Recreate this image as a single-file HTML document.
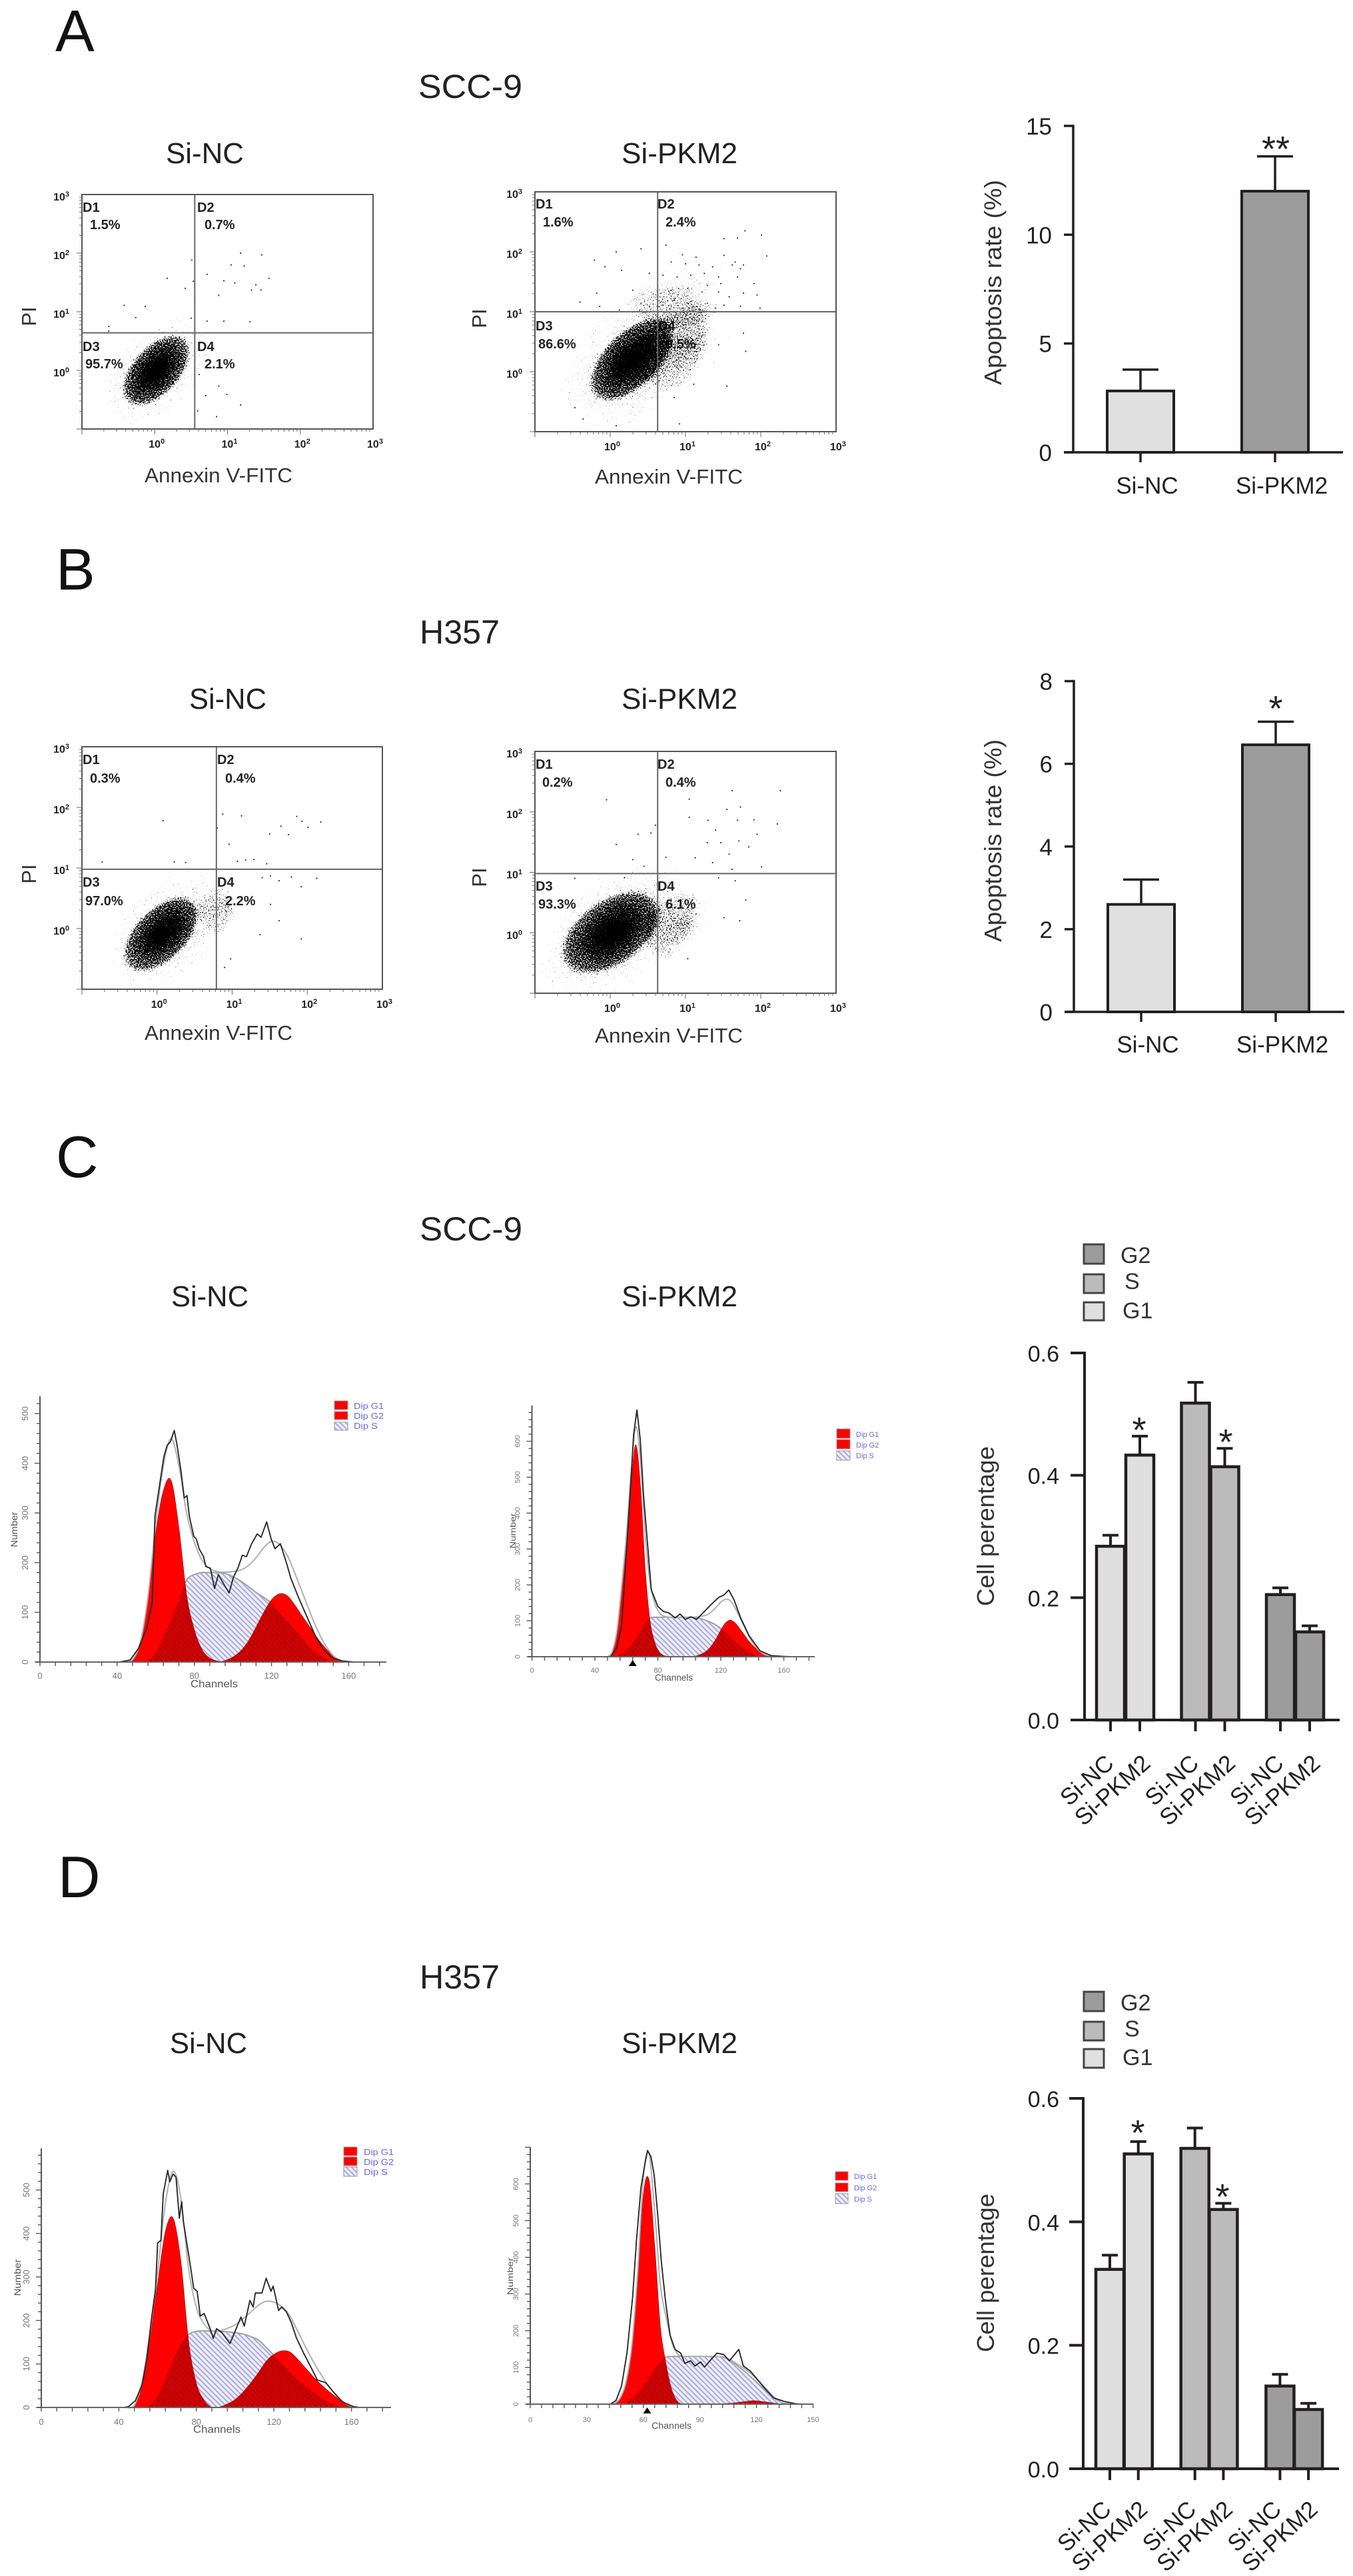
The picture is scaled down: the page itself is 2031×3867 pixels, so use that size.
<!DOCTYPE html>
<html lang="en">
<head>
<meta charset="utf-8">
<title>Apoptosis and cell cycle figure</title>
<style>
html,body{margin:0;padding:0;background:#fff;}
svg{display:block;}
text{font-family:"Liberation Sans",sans-serif;fill:#222;}
.letter{font-size:88px;fill:#111;}
.title{font-size:50px;}
.sub{font-size:44px;}
.ann{font-size:31px;fill:#333;}
.q{font-size:20px;font-weight:700;fill:#222;}
.axt{font-size:36px;fill:#333;}
.star{font-size:54px;fill:#222;text-anchor:middle;}
.leg{font-size:34px;fill:#333;}
.dip{fill:#6a6ae0;}
.num{fill:#777;}
.chan{fill:#555;}
</style>
</head>
<body>
<svg id="figure" width="2031" height="3867" viewBox="0 0 2031 3867">
  <defs>
    <filter id="speckle" x="-5%" y="-5%" width="110%" height="110%" color-interpolation-filters="sRGB">
      <feTurbulence type="fractalNoise" baseFrequency="0.55" numOctaves="2" seed="7" result="noise"/>
      <feColorMatrix in="noise" type="matrix" values="0 0 0 0 0  0 0 0 0 0  0 0 0 0 0  1 0 0 0 0" result="noiseAlpha"/>
      <feComposite in="SourceAlpha" in2="noiseAlpha" operator="arithmetic" k1="0" k2="1" k3="1" k4="-1" result="sum"/>
      <feComponentTransfer in="sum"><feFuncA type="linear" slope="10" intercept="0"/></feComponentTransfer>
    </filter>
    <radialGradient id="cloudGrad">
      <stop offset="0" stop-color="#000" stop-opacity="0.95"/>
      <stop offset="0.3" stop-color="#000" stop-opacity="0.7"/>
      <stop offset="0.6" stop-color="#000" stop-opacity="0.52"/>
      <stop offset="0.85" stop-color="#000" stop-opacity="0.42"/>
      <stop offset="1" stop-color="#000" stop-opacity="0"/>
    </radialGradient>
    <pattern id="hatchBlue" width="5.6" height="5.6" patternUnits="userSpaceOnUse" patternTransform="rotate(45)">
      <rect width="5.6" height="5.6" fill="#eeeefa"/><rect width="5.6" height="2" fill="#a8a8dc"/>
    </pattern>
    <pattern id="hatchRed" width="5.6" height="5.6" patternUnits="userSpaceOnUse" patternTransform="rotate(45)">
      <rect width="5.6" height="5.6" fill="#d80000"/><rect width="5.6" height="2" fill="#a80000"/>
    </pattern>
  </defs>

  <!-- panel letters and headings -->
  <text class="letter" x="83" y="77">A</text>
  <text class="letter" x="84" y="885">B</text>
  <text class="letter" x="84" y="1767">C</text>
  <text class="letter" x="87" y="2848">D</text>
  <text class="title" x="628" y="147" textLength="156" lengthAdjust="spacingAndGlyphs">SCC-9</text>
  <text class="title" x="630" y="966" textLength="120" lengthAdjust="spacingAndGlyphs">H357</text>
  <text class="title" x="630" y="1862" textLength="154" lengthAdjust="spacingAndGlyphs">SCC-9</text>
  <text class="title" x="630" y="2985" textLength="120" lengthAdjust="spacingAndGlyphs">H357</text>
  <text class="sub" x="249" y="245" textLength="117" lengthAdjust="spacingAndGlyphs">Si-NC</text>
  <text class="sub" x="933" y="245" textLength="174" lengthAdjust="spacingAndGlyphs">Si-PKM2</text>
  <text class="sub" x="284" y="1064" textLength="116" lengthAdjust="spacingAndGlyphs">Si-NC</text>
  <text class="sub" x="933" y="1064" textLength="174" lengthAdjust="spacingAndGlyphs">Si-PKM2</text>
  <text class="sub" x="257" y="1961" textLength="116" lengthAdjust="spacingAndGlyphs">Si-NC</text>
  <text class="sub" x="933" y="1961" textLength="174" lengthAdjust="spacingAndGlyphs">Si-PKM2</text>
  <text class="sub" x="255" y="3082" textLength="116" lengthAdjust="spacingAndGlyphs">Si-NC</text>
  <text class="sub" x="933" y="3082" textLength="174" lengthAdjust="spacingAndGlyphs">Si-PKM2</text>

  <!-- flow plot axis titles -->
  <text class="ann" x="217" y="724" textLength="222" lengthAdjust="spacingAndGlyphs">Annexin V-FITC</text>
  <text class="ann" x="893" y="726" textLength="222" lengthAdjust="spacingAndGlyphs">Annexin V-FITC</text>
  <text class="ann" x="217" y="1561" textLength="222" lengthAdjust="spacingAndGlyphs">Annexin V-FITC</text>
  <text class="ann" x="893" y="1565" textLength="222" lengthAdjust="spacingAndGlyphs">Annexin V-FITC</text>
  <text class="ann" text-anchor="middle" transform="rotate(-90 54 475)" x="54" y="475">PI</text>
  <text class="ann" text-anchor="middle" transform="rotate(-90 730 478)" x="730" y="478">PI</text>
  <text class="ann" text-anchor="middle" transform="rotate(-90 54 1312)" x="54" y="1312">PI</text>
  <text class="ann" text-anchor="middle" transform="rotate(-90 730 1317)" x="730" y="1317">PI</text>

  <!-- quadrant labels -->
  <g>
    <text class="q" x="124" y="318">D1</text><text class="q" x="135" y="344">1.5%</text>
    <text class="q" x="296" y="318">D2</text><text class="q" x="307" y="344">0.7%</text>
    <text class="q" x="124" y="527">D3</text><text class="q" x="128" y="553">95.7%</text>
    <text class="q" x="296" y="527">D4</text><text class="q" x="307" y="553">2.1%</text>
  </g>
  <g>
    <text class="q" x="804" y="313">D1</text><text class="q" x="815" y="340">1.6%</text>
    <text class="q" x="987" y="313">D2</text><text class="q" x="999" y="340">2.4%</text>
    <text class="q" x="804" y="496">D3</text><text class="q" x="808" y="523">86.6%</text>
    <text class="q" x="988" y="496">D4</text><text class="q" x="999" y="523">9.5%</text>
  </g>
  <g>
    <text class="q" x="124" y="1147">D1</text><text class="q" x="135" y="1175">0.3%</text>
    <text class="q" x="326" y="1147">D2</text><text class="q" x="338" y="1175">0.4%</text>
    <text class="q" x="124" y="1331">D3</text><text class="q" x="128" y="1359">97.0%</text>
    <text class="q" x="326" y="1331">D4</text><text class="q" x="338" y="1359">2.2%</text>
  </g>
  <g>
    <text class="q" x="804" y="1154">D1</text><text class="q" x="814" y="1181">0.2%</text>
    <text class="q" x="987" y="1154">D2</text><text class="q" x="999" y="1181">0.4%</text>
    <text class="q" x="804" y="1337">D3</text><text class="q" x="808" y="1364">93.3%</text>
    <text class="q" x="987" y="1337">D4</text><text class="q" x="999" y="1364">6.1%</text>
  </g>

  <!-- bar chart titles and significance marks -->
  <text class="axt" transform="rotate(-90 1503 424)" x="1503" y="424" text-anchor="middle" textLength="308" lengthAdjust="spacingAndGlyphs">Apoptosis rate (%)</text>
  <text class="axt" transform="rotate(-90 1503 1262)" x="1503" y="1262" text-anchor="middle" textLength="304" lengthAdjust="spacingAndGlyphs">Apoptosis rate (%)</text>
  <text class="axt" transform="rotate(-90 1492 2291)" x="1492" y="2291" text-anchor="middle" textLength="240" lengthAdjust="spacingAndGlyphs">Cell perentage</text>
  <text class="axt" transform="rotate(-90 1492 3412)" x="1492" y="3412" text-anchor="middle" textLength="238" lengthAdjust="spacingAndGlyphs">Cell perentage</text>
  <text class="star" x="1915" y="242">**</text>
  <text class="star" x="1915" y="1082">*</text>
  <text class="star" x="1710" y="2165">*</text>
  <text class="star" x="1840" y="2183">*</text>
  <text class="star" x="1708" y="3220">*</text>
  <text class="star" x="1835" y="3316">*</text>

  <!-- bar chart legends -->
  <g stroke-width="0">
    <rect x="1627" y="1868" width="30" height="29" fill="#9b9b9b" stroke="#444" stroke-width="3"/><text class="leg" x="1682" y="1896">G2</text>
    <rect x="1627" y="1913" width="30" height="28" fill="#bbbbbb" stroke="#444" stroke-width="3"/><text class="leg" x="1688" y="1935">S</text>
    <rect x="1627" y="1955" width="30" height="27" fill="#e0e0e0" stroke="#444" stroke-width="3"/><text class="leg" x="1685" y="1979">G1</text>
  </g>
  <g stroke-width="0">
    <rect x="1627" y="2990" width="30" height="29" fill="#9b9b9b" stroke="#444" stroke-width="3"/><text class="leg" x="1682" y="3018">G2</text>
    <rect x="1627" y="3035" width="30" height="28" fill="#bbbbbb" stroke="#444" stroke-width="3"/><text class="leg" x="1688" y="3057">S</text>
    <rect x="1627" y="3076" width="30" height="28" fill="#e0e0e0" stroke="#444" stroke-width="3"/><text class="leg" x="1685" y="3100">G1</text>
  </g>

  <!-- histogram legends and titles -->
  <g>
    <rect x="502" y="2103" width="20" height="13" fill="#f00" stroke="#999"/><text class="dip" font-size="13" x="531" y="2115" textLength="45" lengthAdjust="spacingAndGlyphs">Dip G1</text>
    <rect x="502" y="2119" width="20" height="12" fill="#f00" stroke="#999"/><text class="dip" font-size="13" x="531" y="2130" textLength="45" lengthAdjust="spacingAndGlyphs">Dip G2</text>
    <rect x="502" y="2135" width="20" height="12" fill="url(#hatchBlue)" stroke="#999"/><text class="dip" font-size="13" x="531" y="2145" textLength="36" lengthAdjust="spacingAndGlyphs">Dip S</text>
  </g>
  <g>
    <rect x="1256" y="2145" width="20" height="14" fill="#f00" stroke="#999"/><text class="dip" font-size="11" x="1285" y="2157">Dip G1</text>
    <rect x="1256" y="2161" width="20" height="14" fill="#f00" stroke="#999"/><text class="dip" font-size="11" x="1285" y="2173">Dip G2</text>
    <rect x="1256" y="2178" width="20" height="14" fill="url(#hatchBlue)" stroke="#999"/><text class="dip" font-size="11" x="1285" y="2189">Dip S</text>
  </g>
  <g>
    <rect x="516" y="3223" width="20" height="13" fill="#f00" stroke="#999"/><text class="dip" font-size="13" x="546" y="3235" textLength="45" lengthAdjust="spacingAndGlyphs">Dip G1</text>
    <rect x="516" y="3238" width="20" height="13" fill="#f00" stroke="#999"/><text class="dip" font-size="13" x="546" y="3250" textLength="45" lengthAdjust="spacingAndGlyphs">Dip G2</text>
    <rect x="516" y="3253" width="20" height="14" fill="url(#hatchBlue)" stroke="#999"/><text class="dip" font-size="13" x="546" y="3265" textLength="36" lengthAdjust="spacingAndGlyphs">Dip S</text>
  </g>
  <g>
    <rect x="1254" y="3260" width="19" height="13" fill="#f00" stroke="#999"/><text class="dip" font-size="11" x="1282" y="3271">Dip G1</text>
    <rect x="1254" y="3277" width="19" height="13" fill="#f00" stroke="#999"/><text class="dip" font-size="11" x="1282" y="3288">Dip G2</text>
    <rect x="1254" y="3293" width="19" height="15" fill="url(#hatchBlue)" stroke="#999"/><text class="dip" font-size="11" x="1282" y="3305">Dip S</text>
  </g>
  <text class="chan" font-size="16" x="286" y="2533" textLength="71" lengthAdjust="spacingAndGlyphs">Channels</text>
  <text class="chan" font-size="14" x="983" y="2523" textLength="57" lengthAdjust="spacingAndGlyphs">Channels</text>
  <text class="chan" font-size="16" x="290" y="3652" textLength="71" lengthAdjust="spacingAndGlyphs">Channels</text>
  <text class="chan" font-size="14" x="978" y="3646" textLength="60" lengthAdjust="spacingAndGlyphs">Channels</text>
  <text class="chan" font-size="14" transform="rotate(-90 26 2296)" x="26" y="2296" text-anchor="middle" textLength="53" lengthAdjust="spacingAndGlyphs">Number</text>
  <text class="chan" font-size="12" transform="rotate(-90 774 2298)" x="774" y="2298" text-anchor="middle" textLength="53" lengthAdjust="spacingAndGlyphs">Number</text>
  <text class="chan" font-size="14" transform="rotate(-90 31 3419)" x="31" y="3419" text-anchor="middle" textLength="55" lengthAdjust="spacingAndGlyphs">Number</text>
  <text class="chan" font-size="12" transform="rotate(-90 770 3417)" x="770" y="3417" text-anchor="middle" textLength="56" lengthAdjust="spacingAndGlyphs">Number</text>
</svg>

<script>
/* ---------- flow cytometry data (log10 decades) ---------- */
const flowExponents = [0, 1, 2, 3];
const gateA1 = [0.55, 0.64];
const gateA2 = [0.63, 1.0];
const gateB1 = [0.79, 0.98];
const gateB2 = [0.63, 0.98];
/* density regions: centre x, centre y, major, minor, angle, density */
const cloudsA1 = [[0.02,0.0,1.0,0.62,-48,0.56],[0.02,0.0,0.62,0.34,-48,0.9]];
const cloudsA2 = [[0.3,0.2,1.3,0.82,-45,0.56],[1.1,0.45,0.85,0.55,-30,0.37],[1.1,1.5,0.95,0.6,-20,0.33],[0.28,0.2,0.72,0.38,-45,0.9]];
const cloudsB1 = [[0.15,0.0,1.05,0.68,-42,0.56],[1.0,0.3,0.5,0.35,0,0.35],[0.05,-0.1,0.65,0.36,-45,0.9]];
const cloudsB2 = [[0.1,0.05,1.35,0.82,-38,0.56],[1.0,0.1,0.6,0.45,-20,0.37],[0.0,0.0,0.78,0.45,-35,0.9]];
const dotsA1 = [[.17,1.57],[-.42,1.11],[-.13,1.09],[-.26,.9],[-.63,.75],[-.63,.67],[.42,1.4],[.51,1.88],[.53,1.52],[.55,1.18],[1.18,2.0],[1.47,1.97],[1.05,1.8],[1.23,1.78],[.72,1.64],[.95,1.53],[1.1,1.49],[1.39,1.46],[1.57,1.57],[1.33,1.37],[1.46,1.37],[.88,1.28],[.5,.89],[.72,.84],[1.31,.83],[.95,.84],[.61,-.07],[.88,-.27],[.99,-.41],[1.18,-.59],[.7,-.43],[.85,-.79],[.59,-.69]];
const dotsA2 = [[2.01,2.28],[1.79,2.35],[1.51,2.22],[1.69,2.23],[2.08,1.93],[.74,2.11],[.41,2.05],[.08,2.0],[-.21,1.86],[-.07,1.75],[.15,1.69],[.96,1.95],[1.14,1.91],[1.51,1.94],[1.77,1.78],[1.66,1.83],[.81,1.83],[1.0,1.8],[1.18,1.78],[1.36,1.75],[1.62,1.78],[1.73,1.72],[.52,1.64],[.7,1.61],[.89,1.58],[1.07,1.61],[1.25,1.64],[1.44,1.58],[1.69,1.58],[1.91,1.47],[1.29,1.44],[1.47,1.47],[1.03,1.39],[1.22,1.33],[.81,1.36],[1.44,1.33],[1.58,1.25],[1.77,1.31],[1.95,1.28],[.3,1.36],[-.18,1.31],[-.4,1.16],[.85,1.2],[1.07,1.17],[1.29,1.14],[1.51,1.11],[1.73,1.09],[.7,1.11],[.52,1.09],[1.99,1.06],[.41,1.14],[-.14,1.09],[.96,1.06],[1.18,1.03],[1.4,1.06],[.12,1.03],[1.8,.34],[1.55,-.24],[1.11,-.21],[.92,-.87],[.85,-.43],[1.77,.64],[1.44,.45],[-.47,-.6],[-.36,-.79],[.08,-.9]];
const dotsB1 = [[.08,1.78],[-.73,1.1],[.23,1.1],[.38,1.09],[.8,1.66],[.875,1.89],[1.125,1.86],[.96,1.39],[1.5,1.56],[1.65,1.69],[1.75,1.55],[1.86,1.85],[1.93,1.77],[2.01,1.67],[2.18,1.76],[1.07,1.11],[1.18,1.13],[1.29,1.14],[1.46,1.07],[1.4,.84],[1.51,.87],[1.625,.79],[1.79,.85],[1.92,.69],[2.125,.83],[1.51,.4],[1.625,.13],[1.37,-.1],[1.92,-.17],[.98,-.5],[.9,-.64]];
const dotsB2 = [[-.05,2.2],[1.05,2.21],[1.05,1.91],[1.62,2.35],[2.26,2.35],[1.55,2.04],[1.73,2.08],[1.69,1.86],[1.91,1.87],[2.22,1.8],[1.3,1.86],[1.4,1.7],[1.95,1.63],[.08,1.46],[.37,1.63],[.54,1.65],[.6,1.78],[1.29,1.49],[1.47,1.49],[1.58,1.3],[1.71,1.52],[1.84,1.42],[.3,1.21],[.45,1.1],[.74,1.25],[1.13,1.24],[1.36,1.16],[1.62,1.05],[2.01,1.09],[-.47,.9],[.19,.91],[1.44,.91],[1.66,.86],[1.8,.54],[1.51,.25],[1.72,.2],[1.14,.31],[1.03,-.43]];

/* ---------- apoptosis bars ---------- */
const barCategories = ['Si-NC', 'Si-PKM2'];
const apoptosisAValues = [2.82, 12.0];
const apoptosisAErrorTops = [3.8, 13.6];
const apoptosisATicks = [0, 5, 10, 15];
const apoptosisBValues = [2.6, 6.46];
const apoptosisBErrorTops = [3.2, 7.02];
const apoptosisBTicks = [0, 2, 4, 6, 8];

/* ---------- cell cycle bars ---------- */
const cellCategories = ['Si-NC', 'Si-PKM2', 'Si-NC', 'Si-PKM2', 'Si-NC', 'Si-PKM2'];
const cellPhases = ['G1', 'G1', 'S', 'S', 'G2', 'G2'];
const cellCValues = [0.284, 0.433, 0.518, 0.414, 0.205, 0.144];
const cellCErrorTops = [0.302, 0.464, 0.552, 0.444, 0.216, 0.154];
const cellDValues = [0.323, 0.51, 0.519, 0.42, 0.134, 0.096];
const cellDErrorTops = [0.346, 0.53, 0.552, 0.43, 0.153, 0.106];
const cellTicks = ['0.0', '0.2', '0.4', '0.6'];

/* ---------- cell cycle histograms ---------- */
const c1Channels = [44,48,52,56,60,64,68,72,76,80,84,88,92,96,100,104,108,112,116,120,124,128,132,136,140,144,148,152,156,160];
const c1G1 = [0,5,40,130,260,345,365,270,135,65,25,8,2,0,0,0,0,0,0,0,0,0,0,0,0,0,0,0,0,0];
const c1S = [0,0,0,2,20,50,85,125,165,176,180,180,180,178,172,163,152,140,130,118,100,82,65,48,30,16,6,0,0,0];
const c1G2 = [0,0,0,0,0,0,0,0,0,0,0,0,0,3,10,22,42,70,100,125,137,134,115,92,70,47,28,13,3,0];
const c1RawChannels = [41,46.7,51,55.3,58.2,59.6,62,64.2,65.9,67.6,69.6,71,73,74.8,76.2,77.4,79.7,81,82.5,84.8,86,88.3,90.5,92.5,95.4,98,100.3,102.6,104.9,107,109.7,112.6,114.6,117.5,119.8,121.8,124.6,127.8,130,134,138.4,142.7,147,151.3,157,162.8];
const c1RawCounts = [0,4,27,68,120,294,356,413,436,443,466,438,387,330,335,294,253,248,228,212,192,189,148,176,156,139,171,189,215,212,238,258,251,282,248,228,238,199,169,130,91,53,25,9,2,0];
const c1XTicks = [0,40,80,120,160];
const c1YTicks = [0,100,200,300,400,500];

const c2Channels = [45,48,51,54,57,60,63,66,69,72,75,78,81,84,87,90,93,96,99,102,105,108,111,114,117,120,123,126,129,132,135,138,141,144,147,150,153,156,159,162];
const c2G1 = [0,0,15,70,190,320,480,590,470,240,100,40,12,3,0,0,0,0,0,0,0,0,0,0,0,0,0,0,0,0,0,0,0,0,0,0,0,0,0,0];
const c2S = [0,0,0,2,8,18,32,50,72,95,108,110,110,110,110,110,110,110,110,110,108,105,100,95,88,78,66,54,42,32,22,13,6,2,0,0,0,0,0,0];
const c2G2 = [0,0,0,0,0,0,0,0,0,0,0,0,0,0,0,0,0,0,0,0,3,8,16,30,50,74,94,102,94,78,60,42,28,16,8,3,0,0,0,0];
const c2RawChannels = [50,53.7,57,59.6,62.5,64.6,66.7,68.8,70.9,73.7,75.8,80,83.5,87,91,94,97.5,101,104.6,108,113.3,118.6,122,125,128.4,132.6,138,145,152,159,164];
const c2RawCounts = [0,23,87,264,463,619,687,605,449,300,186,140,126,122,108,119,104,111,104,119,143,165,172,186,158,108,58,16,3,1,0];
const c2XTicks = [0,40,80,120,160];
const c2YTicks = [0,100,200,300,400,500,600];

const d1Channels = [44,48,52,56,60,64,68,72,76,80,84,88,92,96,100,104,108,112,116,120,124,128,132,136,140,144,148,152,156,160,164];
const d1G1 = [0,5,60,165,285,404,435,335,150,55,16,0,0,0,0,0,0,0,0,0,0,0,0,0,0,0,0,0,0,0,0];
const d1S = [0,0,0,5,26,65,108,145,168,175,176,176,175,174,172,169,163,155,138,120,102,84,66,50,36,24,12,4,0,0,0];
const d1G2 = [0,0,0,0,0,0,0,0,0,0,0,0,1,8,18,35,56,80,106,122,130,128,112,92,72,54,38,24,12,3,0];
const d1RawChannels = [42.7,45,48.6,52,54.3,57,58.9,60,61.7,62.9,65.2,66.3,68,69.5,71.2,72.4,73.2,77.2,78.6,80.4,82,84,87,88.7,90.4,93.2,97.3,99.5,103,104.7,107.6,109.3,110.4,113.8,116,118.5,119.6,122.4,124,126.4,129,131.6,135.3,138.7,142.4,146.7,151,155.3,161,164];
const d1RawCounts = [0,2,16,52,108,210,271,378,384,491,545,519,537,529,435,473,430,317,274,267,210,216,182,159,181,172,147,170,208,187,246,231,263,263,297,267,279,223,231,220,195,160,125,96,63,57,34,13,2,0];
const d1XTicks = [0,40,80,120,160];
const d1YTicks = [0,100,200,300,400,500];

const d2Channels = [39,42,45,48,51,54,57,60,63,66,69,72,75,78,81,84,87,90,93,96,99,102,105,108,111,114,117,120,123,126,129,132,135,138,141,144];
const d2G1 = [0,0,3,20,60,150,330,570,610,430,210,110,40,8,0,0,0,0,0,0,0,0,0,0,0,0,0,0,0,0,0,0,0,0,0,0];
const d2S = [0,0,0,0,5,15,30,50,72,95,115,128,130,130,130,130,130,130,130,130,130,128,122,112,100,88,74,60,46,32,18,8,2,0,0,0];
const d2G2 = [0,0,0,0,0,0,0,0,0,0,0,0,0,0,0,0,0,0,0,0,0,1,2,3,5,7,9,9,7,5,3,1,0,0,0,0];
const d2RawChannels = [42.5,45.5,48.4,51.3,54.3,56.3,58.7,61,62.2,64,65.7,67.4,69.5,71.8,74.2,76.8,79.8,82,85,87.4,90.3,92.4,95.3,99,102.6,105.6,110.6,113,116.7,120.2,124.6,129,135,140.8,143.7];
const d2RawCounts = [0,10,49,139,292,444,590,660,691,674,625,528,389,278,187,149,139,111,118,104,115,101,118,139,135,118,149,104,90,69,42,17,7,1,0];
const d2XTicks = [0,30,60,90,120,150];
const d2YTicks = [0,100,200,300,400,500,600];

/* ---------- helpers ---------- */
const root = document.getElementById('figure');
const NS = root.namespaceURI;
function mk(parent, tag, attrs, name, label) {
  const node = document.createElementNS(NS, tag);
  for (const k in attrs) { node.setAttribute(k, attrs[k]); }
  
  
  if (label !== undefined) { node.textContent = label; }
  parent.appendChild(node);
  return node;
}
function line(p, x1, y1, x2, y2, stroke, w, name) {
  return mk(p, 'line', {x1:x1, y1:y1, x2:x2, y2:y2, stroke:stroke, 'stroke-width':w}, name);
}

/* ---------- flow plots ---------- */
function drawFlow(key, box, gate, clouds, dots) {
  const g = mk(root, 'g', {}, 'flow-plot-' + key);
  const xS = v => box.x + (v + 1) * box.w / 4;
  const yS = v => box.y + box.h - (v + 1) * box.h / 4;
  const clip = mk(root.querySelector('defs'), 'clipPath', {id:'box' + key}, 'clip-' + key);
  mk(clip, 'rect', {x:box.x, y:box.y, width:box.w, height:box.h}, 'clip-rect');
  const holder = mk(g, 'g', {'clip-path':'url(#box' + key + ')'}, 'cell-population-' + key);
  const cloudLayer = mk(holder, 'g', {filter:'url(#speckle)'}, 'density-clouds-' + key);
  clouds.forEach(c => {
    const cx = xS(c[0]), cy = yS(c[1]);
    mk(cloudLayer, 'ellipse', {cx:cx, cy:cy, rx:c[2]*box.w/4, ry:c[3]*box.w/4, fill:'url(#cloudGrad)', 'fill-opacity':c[5], transform:'rotate(' + c[4] + ' ' + cx + ' ' + cy + ')'}, 'density-cloud');
  });
  dots.forEach(d => {
    mk(holder, 'circle', {cx:xS(d[0]), cy:yS(d[1]), r:1.1, fill:'#333'}, 'event-dot');
  });
  line(g, xS(gate[0]), box.y, xS(gate[0]), box.y + box.h, '#666', 2, 'gate-vertical');
  line(g, box.x, yS(gate[1]), box.x + box.w, yS(gate[1]), '#666', 2, 'gate-horizontal');
  mk(g, 'rect', {x:box.x, y:box.y, width:box.w, height:box.h, fill:'none', stroke:'#555', 'stroke-width':2}, 'plot-frame');
  for (let d = -1; d < 3; d++) {
    for (let m = 1; m < 10; m++) {
      const v = d + Math.log10(m), len = m === 1 ? 8 : 4;
      line(g, xS(v), box.y + box.h, xS(v), box.y + box.h + len, '#666', 1, 'x-tick');
      line(g, box.x, yS(v), box.x - len, yS(v), '#666', 1, 'y-tick');
    }
  }
  flowExponents.forEach(e => {
    const xl = mk(g, 'text', {x:xS(e) + 3, y:box.y + box.h + 28, 'text-anchor':'middle', 'font-size':16, 'font-weight':700, fill:'#333'}, 'x-tick-label', '10');
    mk(xl, 'tspan', {dy:-6, 'font-size':11}, 'x-tick-exponent', String(e));
    const yl = mk(g, 'text', {x:box.x - 19, y:yS(e) + 9, 'text-anchor':'end', 'font-size':16, 'font-weight':700, fill:'#333'}, 'y-tick-label', '10');
    mk(yl, 'tspan', {dy:-6, 'font-size':11}, 'y-tick-exponent', String(e));
  });
}
drawFlow('a1', {x:123, y:292, w:437, h:352}, gateA1, cloudsA1, dotsA1);
drawFlow('a2', {x:803, y:288, w:452, h:360}, gateA2, cloudsA2, dotsA2);
drawFlow('b1', {x:123, y:1121, w:451, h:364}, gateB1, cloudsB1, dotsB1);
drawFlow('b2', {x:803, y:1128, w:452, h:363}, gateB2, cloudsB2, dotsB2);

/* ---------- bar charts ---------- */
const INK = '#231f20';
function drawApoptosis(key, o, values, errorTops, ticks) {
  const g = mk(root, 'g', {}, 'apoptosis-chart-' + key);
  const yS = v => o.zero - v / o.max * (o.zero - o.top);
  values.forEach((v, i) => {
    const cx = o.first + i * o.step;
    line(g, cx, yS(v), cx, yS(errorTops[i]), INK, 3.5, 'error-bar-' + barCategories[i]);
    line(g, cx - 27, yS(errorTops[i]), cx + 27, yS(errorTops[i]), INK, 3.5, 'error-cap-' + barCategories[i]);
    mk(g, 'rect', {x:cx - 50, y:yS(v), width:100, height:o.zero - yS(v), fill:o.fills[i], stroke:INK, 'stroke-width':4}, 'bar-' + barCategories[i]);
    line(g, cx, o.zero, cx, o.zero + 15, INK, 3.5, 'x-tick');
    mk(g, 'text', {x:cx + 10, y:o.labelY, 'text-anchor':'middle', 'font-size':35, fill:'#333'}, 'x-tick-label', barCategories[i]);
  });
  line(g, o.axisX, o.top - 1.75, o.axisX, o.zero, INK, 3.5, 'y-axis');
  line(g, o.axisX - 14, o.zero, o.right, o.zero, INK, 3.5, 'x-axis');
  ticks.forEach(t => {
    line(g, o.axisX - 14, yS(t), o.axisX, yS(t), INK, 3.5, 'y-tick');
    mk(g, 'text', {x:o.axisX - 32, y:yS(t) + 13, 'text-anchor':'end', 'font-size':35, fill:'#333'}, 'y-tick-label', String(t));
  });
}
drawApoptosis('a', {axisX:1611, top:189, zero:679, max:15, first:1712, step:202, right:2016, labelY:741, fills:['#e0e0e0','#9b9b9b']}, apoptosisAValues, apoptosisAErrorTops, apoptosisATicks);
drawApoptosis('b', {axisX:1612, top:1022.5, zero:1519, max:8, first:1713, step:202, right:2018, labelY:1580, fills:['#e0e0e0','#9b9b9b']}, apoptosisBValues, apoptosisBErrorTops, apoptosisBTicks);

const phaseFills = {G1:'#e0dfe0', S:'#bbbbbb', G2:'#9d9c9d'};
function drawCell(key, o, values, errorTops) {
  const g = mk(root, 'g', {}, 'cell-cycle-chart-' + key);
  const yS = v => o.zero - v / 0.6 * (o.zero - o.top);
  const xS = i => o.first + Math.floor(i / 2) * o.group + (i % 2) * o.pair;
  values.forEach((v, i) => {
    const cx = xS(i);
    line(g, cx, yS(v), cx, yS(errorTops[i]), INK, 4, 'error-bar');
    line(g, cx - 12, yS(errorTops[i]), cx + 12, yS(errorTops[i]), INK, 4, 'error-cap');
  });
  values.forEach((v, i) => {
    const cx = xS(i);
    mk(g, 'rect', {x:cx - 21, y:yS(v), width:42, height:o.zero - yS(v), fill:phaseFills[cellPhases[i]], stroke:INK, 'stroke-width':4.5}, 'bar-' + cellPhases[i] + '-' + cellCategories[i]);
    line(g, cx, o.zero, cx, o.zero + 17, INK, 4, 'x-tick');
    const lx = cx + (i % 2 ? o.endB : o.endA), ly = o.labelY;
    mk(g, 'text', {x:lx, y:ly, 'text-anchor':'end', 'font-size':35, fill:'#333', transform:'rotate(-42 ' + lx + ' ' + ly + ')'}, 'x-tick-label', cellCategories[i]);
  });
  line(g, o.axisX, o.top - 2, o.axisX, o.zero, INK, 4, 'y-axis');
  line(g, o.axisX - 21, o.zero, o.right, o.zero, INK, 4, 'x-axis');
  cellTicks.forEach(t => {
    const v = parseFloat(t);
    line(g, o.axisX - 21, yS(v), o.axisX, yS(v), INK, 4, 'y-tick');
    mk(g, 'text', {x:1590, y:yS(v) + 13, 'text-anchor':'end', 'font-size':34, fill:'#333'}, 'y-tick-label', t);
  });
}
drawCell('c', {axisX:1628, top:2031, zero:2582, first:1667, group:127.5, pair:44, right:2011, labelY:2650, endA:7, endB:18}, cellCValues, cellCErrorTops);
drawCell('d', {axisX:1626, top:3150, zero:3706, first:1666, group:127.7, pair:42.7, right:2010, labelY:3770, endA:4, endB:16}, cellDValues, cellDErrorTops);

/* ---------- histograms ---------- */
function smooth(pts) {
  let d = 'M' + pts[0][0] + ',' + pts[0][1];
  for (let i = 0; i < pts.length - 1; i++) {
    const p0 = pts[Math.max(0, i - 1)], p1 = pts[i], p2 = pts[i + 1], p3 = pts[Math.min(pts.length - 1, i + 2)];
    d += 'C' + (p1[0] + (p2[0] - p0[0]) / 6) + ',' + (p1[1] + (p2[1] - p0[1]) / 6) + ' ' + (p2[0] - (p3[0] - p1[0]) / 6) + ',' + (p2[1] - (p3[1] - p1[1]) / 6) + ' ' + p2[0] + ',' + p2[1];
  }
  return d;
}
function drawHistogram(key, o, channels, g1, s, g2, rawC, rawN, xTicks, yTicks) {
  const g = mk(root, 'g', {}, 'histogram-' + key);
  const xS = c => o.x0 + c * o.kx;
  const yS = n => o.y0 - n * o.ky;
  const pts = arr => channels.map((c, i) => [xS(c), yS(arr[i])]);
  const area = arr => smooth(pts(arr)) + 'L' + xS(channels[channels.length - 1]) + ',' + o.y0 + 'L' + xS(channels[0]) + ',' + o.y0 + 'Z';
  const sArea = area(s), g1Area = area(g1), g2Area = area(g2);
  mk(g, 'path', {d:sArea, fill:'url(#hatchBlue)', stroke:'#a0a0a0', 'stroke-width':2}, 'dip-s-area');
  mk(g, 'path', {d:g1Area, fill:'#ff0000', stroke:'#aa0000', 'stroke-width':0.8}, 'dip-g1-area');
  mk(g, 'path', {d:g2Area, fill:'#ff0000', stroke:'#aa0000', 'stroke-width':0.8}, 'dip-g2-area');
  const defs = root.querySelector('defs');
  [['g1', g1Area], ['g2', g2Area]].forEach(pair => {
    const id = 'clip' + key + pair[0];
    const cp = mk(defs, 'clipPath', {id:id}, 'clip-' + id);
    mk(cp, 'path', {d:pair[1]}, 'clip-path-shape');
    mk(g, 'path', {d:sArea, fill:'url(#hatchRed)', 'clip-path':'url(#' + id + ')'}, 'dip-overlap-' + pair[0]);
  });
  const total = channels.map((c, i) => [xS(c), yS(g1[i] + s[i] + g2[i])]);
  mk(g, 'path', {d:smooth(total), fill:'none', stroke:'#b0b0b0', 'stroke-width':2}, 'model-fit-line');
  const rawD = rawC.map((c, i) => (i ? 'L' : 'M') + xS(c) + ',' + yS(rawN[i])).join('');
  mk(g, 'path', {d:rawD, fill:'none', stroke:'#2a2a2a', 'stroke-width':1.9, 'stroke-linejoin':'round'}, 'raw-histogram-line');
  line(g, o.x0, o.yTop, o.x0, o.y0, '#555', 2, 'y-axis');
  line(g, o.x0 - 6, o.y0, o.xEnd, o.y0, '#666', 2, 'x-axis');
  for (let c = 0; xS(c) <= o.xEnd; c += o.xStep) {
    line(g, xS(c), o.y0, xS(c), o.y0 + 6, '#555', 1.4, 'x-tick');
  }
  for (let n = 0; yS(n) >= o.yTop; n += 20) {
    line(g, o.x0 - (n % 100 === 0 ? 8 : 5), yS(n), o.x0, yS(n), '#555', 1.4, 'y-tick');
  }
  xTicks.forEach(t => {
    mk(g, 'text', {x:xS(t), y:o.xLabelY, 'text-anchor':'middle', 'font-size':o.fs, class:'num'}, 'x-tick-label', String(t));
  });
  yTicks.forEach(t => {
    const lx = o.x0 - 18, ly = yS(t);
    mk(g, 'text', {x:lx, y:ly, 'text-anchor':'middle', 'font-size':o.fs, class:'num', transform:'rotate(-90 ' + lx + ' ' + ly + ')'}, 'y-tick-label', String(t));
  });
  if (o.marker !== undefined) {
    const mx = xS(o.marker), my = o.y0 + 5;
    mk(g, 'polygon', {points:(mx - 6) + ',' + (my + 9) + ' ' + (mx + 6) + ',' + (my + 9) + ' ' + mx + ',' + my, fill:'#000'}, 'peak-marker');
  }
}
drawHistogram('c1', {x0:60, kx:2.896, y0:2495, ky:0.746, yTop:2096, xEnd:580, xStep:8, xLabelY:2520, fs:13}, c1Channels, c1G1, c1S, c1G2, c1RawChannels, c1RawCounts, c1XTicks, c1YTicks);
drawHistogram('c2', {x0:798.5, kx:2.363, y0:2487, ky:0.539, yTop:2110, xEnd:1223, xStep:8, xLabelY:2511, fs:11, marker:64}, c2Channels, c2G1, c2S, c2G2, c2RawChannels, c2RawCounts, c2XTicks, c2YTicks);
drawHistogram('d1', {x0:62, kx:2.91, y0:3614, ky:0.653, yTop:3225, xEnd:587, xStep:8, xLabelY:3640, fs:13}, d1Channels, d1G1, d1S, d1G2, d1RawChannels, d1RawCounts, d1XTicks, d1YTicks);
drawHistogram('d2', {x0:796, kx:2.83, y0:3609, ky:0.551, yTop:3223, xEnd:1221, xStep:6, xLabelY:3636, fs:11, marker:62}, d2Channels, d2G1, d2S, d2G2, d2RawChannels, d2RawCounts, d2XTicks, d2YTicks);
</script>
</body>
</html>
